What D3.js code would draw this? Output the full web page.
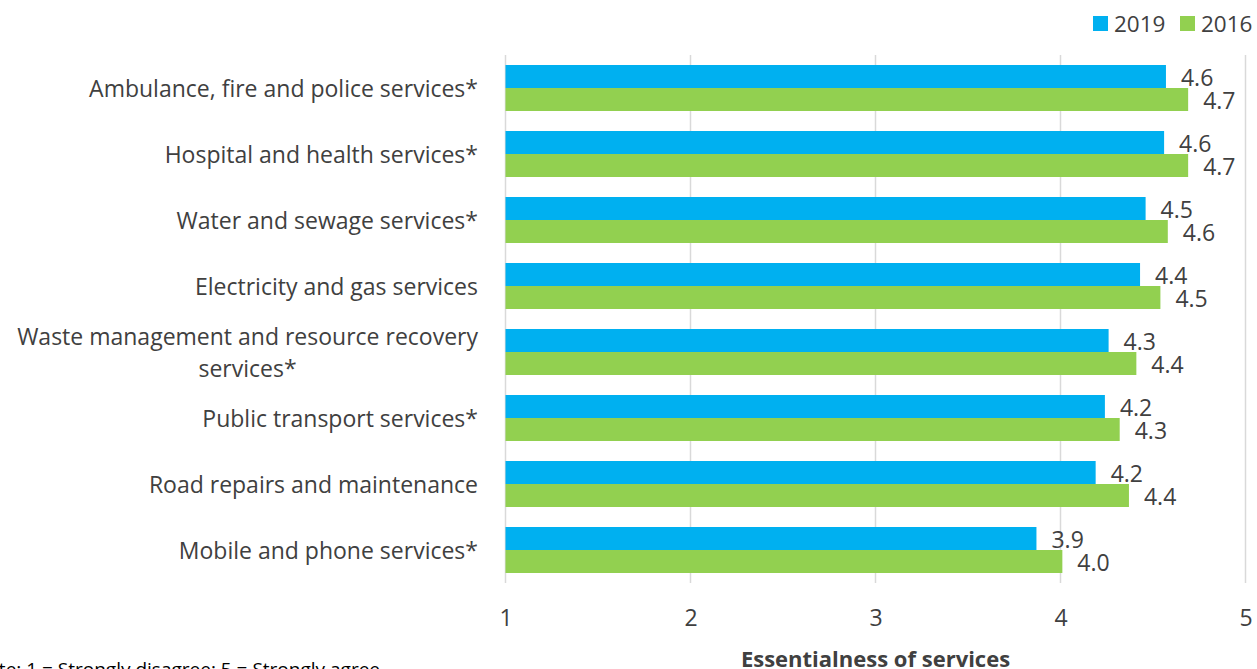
<!DOCTYPE html>
<html>
<head>
<meta charset="utf-8">
<script src="https://cdn.jsdelivr.net/npm/d3@7"></script>
<style>
  html, body { margin: 0; padding: 0; background: #fff; }
  svg { display: block; font-family: "Open Sans", "Noto Sans", sans-serif; }
</style>
</head>
<body>
<svg id="chart" width="1257" height="669"></svg>
<script>
// Mean agreement that each service is essential (1 = strongly disagree, 5 = strongly agree)
const categories = [
  ["Ambulance, fire and police services*"],
  ["Hospital and health services*"],
  ["Water and sewage services*"],
  ["Electricity and gas services"],
  ["Waste management and resource recovery", "services*"],
  ["Public transport services*"],
  ["Road repairs and maintenance"],
  ["Mobile and phone services*"]
];
const values2019 = [4.57, 4.56, 4.46, 4.43, 4.26, 4.24, 4.19, 3.87];
const values2016 = [4.69, 4.69, 4.58, 4.54, 4.41, 4.32, 4.37, 4.01];
const seriesNames = ["2019", "2016"];
const seriesColors = ["#00B0F0", "#92D050"];
const xTicks = [1, 2, 3, 4, 5];
const xTitle = "Essentialness of services";
const note = "Note: 1 = Strongly disagree; 5 = Strongly agree";

const svg = d3.select("#chart");
const textColor = "#404040";
const fontSize = 23;

const plot = { left: 505.5, right: 1245.5, top: 55, bottom: 583 };

const x = d3.scaleLinear().domain([1, 5]).range([plot.left, plot.right]);
const y = d3.scaleBand()
  .domain(d3.range(categories.length))
  .range([plot.top, plot.bottom])
  .paddingInner(20 / 66)
  .paddingOuter(10 / 66);
const ySub = d3.scaleBand().domain(seriesNames).range([0, y.bandwidth()]);

// vertical gridlines
svg.append("g")
  .selectAll("line")
  .data(xTicks)
  .join("line")
  .attr("x1", d => x(d)).attr("x2", d => x(d))
  .attr("y1", plot.top).attr("y2", plot.bottom)
  .attr("stroke", "#D9D9D9").attr("stroke-width", 1.5);

// x axis tick labels
const xAxis = d3.axisBottom(x).tickValues(xTicks).tickSize(0).tickFormat(d3.format("d"));
const gx = svg.append("g").attr("transform", `translate(0,${plot.bottom + 24})`).call(xAxis);
gx.select(".domain").remove();
gx.selectAll("text")
  .attr("font-family", "Open Sans, sans-serif")
  .attr("font-size", fontSize)
  .attr("fill", textColor);

// axis title
svg.append("text")
  .attr("x", x(3)).attr("y", 667)
  .attr("text-anchor", "middle")
  .attr("font-size", 22).attr("font-weight", "bold")
  .attr("fill", textColor)
  .text(xTitle);

// bars with value labels
const series = [values2019, values2016];
const fmt = d3.format(".1f");
series.forEach((vals, si) => {
  const g = svg.append("g");
  g.selectAll("rect")
    .data(vals)
    .join("rect")
    .attr("x", x(1))
    .attr("y", (d, i) => y(i) + ySub(seriesNames[si]))
    .attr("width", d => x(d) - x(1))
    .attr("height", ySub.bandwidth())
    .attr("fill", seriesColors[si]);
  g.selectAll("text")
    .data(vals)
    .join("text")
    .attr("x", d => x(d) + 15)
    .attr("y", (d, i) => y(i) + ySub(seriesNames[si]) + ySub.bandwidth() / 2 + 1)
    .attr("dy", "0.35em")
    .attr("font-size", fontSize)
    .attr("fill", textColor)
    .text(d => fmt(d));
});

// category labels: right-aligned; wrapped lines are centred on the first line
const labelRight = 478;
categories.forEach((lines, i) => {
  const cy = y(i) + y.bandwidth() / 2 + 0.5;
  const lh = 32;
  const t = svg.append("text")
    .attr("font-size", fontSize)
    .attr("fill", textColor);
  if (lines.length === 1) {
    t.attr("x", labelRight).attr("y", cy).attr("dy", "0.35em")
      .attr("text-anchor", "end").text(lines[0]);
  } else {
    t.attr("text-anchor", "middle");
    const first = t.append("tspan").text(lines[0]);
    const w = first.node().getComputedTextLength();
    const cx = labelRight - w / 2;
    const y0 = cy - lh * (lines.length - 1) / 2;
    t.selectAll("tspan").remove();
    lines.forEach((ln, k) => {
      t.append("tspan").attr("x", cx).attr("y", y0 + k * lh).attr("dy", "0.35em").text(ln);
    });
  }
});

// legend
const legend = svg.append("g").attr("transform", "translate(1093,16)");
const legendX = [0, 87];
seriesNames.forEach((name, i) => {
  const lg = legend.append("g").attr("transform", `translate(${legendX[i]},0)`);
  lg.append("rect").attr("width", 15).attr("height", 15).attr("fill", seriesColors[i]);
  lg.append("text").attr("x", 21).attr("y", 8).attr("dy", "0.35em")
    .attr("font-size", 22.5).attr("fill", textColor).text(name);
});

// note, anchored by its right end
const noteText = svg.append("text")
  .attr("y", 676)
  .attr("font-size", 19).attr("fill", "#000")
  .text(note);
const noteW = noteText.node().getComputedTextLength();
noteText.attr("x", 380 - noteW);
</script>
</body>
</html>
